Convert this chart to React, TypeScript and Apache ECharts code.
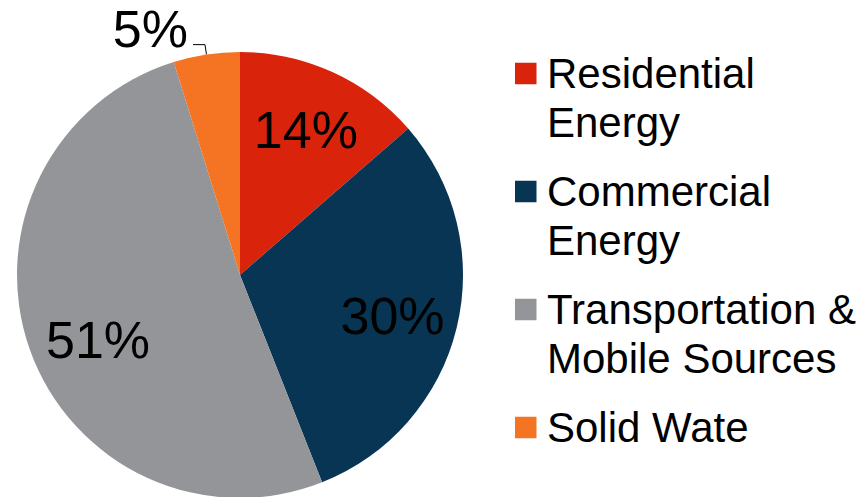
import React, { useEffect, useRef } from "react";
import * as echarts from "echarts";

const categories = [
  "Residential Energy",
  "Commercial Energy",
  "Transportation & Mobile Sources",
  "Solid Wate",
];
const legendLabels = [
  "Residential\nEnergy",
  "Commercial\nEnergy",
  "Transportation &\nMobile Sources",
  "Solid Wate",
];
const shares = [13.6, 30.4, 51.2, 4.8];
const colors = ["#D9230B", "#073553", "#939598", "#F47424"];

const FONT = "'Liberation Sans', Arial, Helvetica, sans-serif";
// square icon aligned with the first text line inside a two-line item box
const ICON = "path://M0,0L0.01,0M27,98L26.99,98M0,13.75L21.5,13.75L21.5,35.25L0,35.25Z";

export default function App() {
  const ref = useRef<HTMLDivElement>(null);

  useEffect(() => {
    if (!ref.current) return;
    const chart = echarts.init(ref.current, null, { renderer: "svg" });

    const baseData = categories.map((name, i) => ({
      name,
      value: shares[i],
      itemStyle: { color: colors[i] },
    }));

    const labelData = categories.map((name, i) => {
      const item: any = {
        name,
        value: shares[i],
        itemStyle: { color: "rgba(0,0,0,0)" },
      };
      if (i === 2) {
        item.label = { offset: [8, 12] };
      }
      if (i === 1) {
        item.label = { offset: [-2, 3] };
      }
      if (i === 3) {
        item.label = {
          position: "outside",
          lineHeight: 32,
          distanceToLabelLine: 5,
        };
        item.labelLine = {
          show: true,
          length: 10,
          length2: 12,
          smooth: false,
          lineStyle: { color: "#000", width: 1 },
        };
      }
      return item;
    });

    chart.setOption({
      animation: false,
      backgroundColor: "#ffffff",
      legend: {
        orient: "vertical",
        left: 515,
        top: 49,
        height: 470,
        padding: 0,
        itemGap: 20,
        itemWidth: 27,
        itemHeight: 98,
        selectedMode: false,
        itemStyle: { borderWidth: 0 },
        textStyle: {
          fontSize: 42,
          lineHeight: 49,
          color: "#000",
          fontFamily: FONT,
        },
        formatter: (name: string) => {
          const txt = legendLabels[categories.indexOf(name)];
          // keep every item two lines tall so the icon sits on the first line
          return txt.indexOf("\n") >= 0 ? txt : txt + "\n ";
        },
        data: categories.map((name) => ({ name, icon: ICON })),
      },
      series: [
        {
          type: "pie",
          center: [240, 275],
          radius: [0, 223],
          startAngle: 90,
          clockwise: true,
          label: { show: false },
          labelLine: { show: false },
          itemStyle: { borderWidth: 0 },
          emphasis: { disabled: true },
          data: baseData,
        },
        {
          type: "pie",
          center: [240, 275],
          radius: [89, 223],
          startAngle: 90,
          clockwise: true,
          silent: true,
          percentPrecision: 0,
          avoidLabelOverlap: false,
          itemStyle: { borderWidth: 0 },
          emphasis: { disabled: true },
          label: {
            show: true,
            position: "inside",
            formatter: (p: any) =>
              p.dataIndex === 3 ? `${p.percent}%\n ` : `${p.percent}%`,
            fontSize: 52,
            color: "#000",
            fontFamily: FONT,
          },
          labelLine: { show: false },
          data: labelData,
        },
      ],
    });

    return () => chart.dispose();
  }, []);

  return (
    <div
      ref={ref}
      style={{ position: "fixed", left: 0, top: 0, width: 867, height: 497 }}
    />
  );
}
